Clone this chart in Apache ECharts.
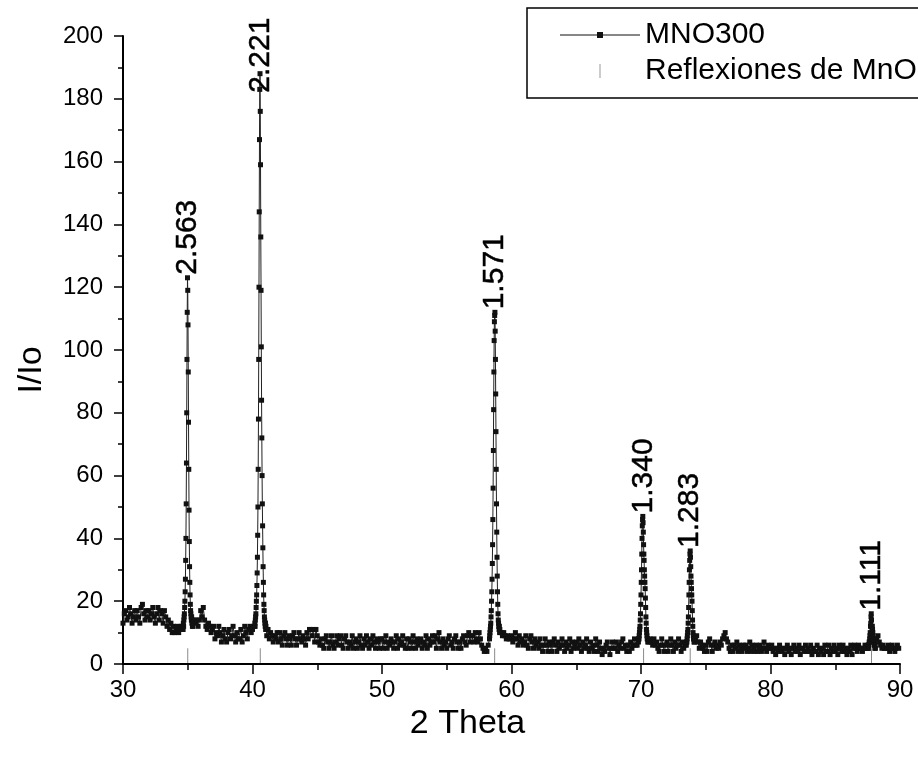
<!DOCTYPE html>
<html>
<head>
<meta charset="utf-8">
<script src="https://cdn.jsdelivr.net/npm/echarts@6/dist/echarts.min.js"></script>
<style>
  html, body { margin: 0; padding: 0; background: #fff; }
  #chart { width: 918px; height: 767px; }
</style>
</head>
<body>
<div id="chart"></div>
<script>
// Difractograma MNO300: barrido de fondo (2θ de 30.0 a 89.9, paso 0.1°)
const barridoInicio = 30.0;
const barridoPaso = 0.1;
const barridoIntensidad = [
  13,16,17,14,15,18,16,13,15,17,
  14,17,15,13,18,19,16,14,17,15,
  17,14,16,18,15,13,16,18,14,17,
  16,13,17,15,12,14,11,13,10,12,
  10,11,12,10,11,12,14,20,60,110,
  120,60,22,15,13,14,13,14,12,14,
  17,15,18,14,12,11,13,12,10,11,
  12,8,10,9,12,10,7,9,11,8,
  7,10,11,8,9,12,9,7,10,8,
  8,11,7,9,12,10,8,11,12,10,
  11,12,16,40,120,180,100,40,18,13,
  12,9,11,8,10,9,7,9,8,10,
  7,10,8,6,9,10,8,6,9,8,
  6,9,10,8,6,8,10,8,7,9,
  8,6,10,8,11,11,9,11,7,11,
  9,7,6,8,6,5,8,9,7,5,
  7,9,6,5,7,9,6,8,9,6,
  5,8,9,7,5,7,6,9,5,7,
  8,5,7,9,6,5,8,6,9,7,
  5,8,6,9,7,5,8,7,5,8,
  8,5,7,9,5,7,6,8,7,5,
  7,9,5,8,6,7,9,6,5,8,
  5,8,7,5,9,7,5,8,6,7,
  8,5,7,6,9,5,8,6,7,9,
  7,9,5,8,10,7,5,8,6,7,
  5,8,9,6,7,5,8,9,7,5,
  7,5,8,9,7,6,9,10,7,9,
  9,7,10,8,7,10,8,6,5,4,
  5,4,6,10,30,90,110,60,20,12,
  12,11,10,9,10,9,8,9,8,8,
  9,7,8,10,8,6,9,7,8,6,
  7,9,6,5,8,9,7,5,8,6,
  7,5,8,6,4,6,8,6,4,7,
  6,4,7,8,6,4,7,5,6,8,
  6,4,7,5,6,8,4,7,5,6,
  7,5,8,6,4,7,5,6,8,5,
  4,7,5,6,4,8,6,4,7,5,
  3,5,4,6,7,5,3,5,7,5,
  5,7,4,6,5,7,8,5,6,4,
  6,4,7,5,6,8,6,6,7,8,
  20,46,38,24,10,8,7,8,7,6,
  8,6,7,5,4,6,8,6,4,6,
  7,4,6,8,6,4,7,5,6,8,
  6,4,7,5,6,8,12,33,24,12,
  9,7,8,9,7,5,7,6,5,4,
  6,4,7,8,6,4,6,7,5,6,
  5,7,6,8,9,10,8,7,5,4,
  6,4,6,5,7,4,6,5,4,6,
  5,6,4,5,7,4,6,5,4,6,
  4,5,6,4,5,7,5,4,6,5,
  5,6,4,5,3,5,4,6,5,4,
  5,3,5,6,4,5,3,5,6,4,
  5,4,6,3,5,5,4,6,4,5,
  4,6,3,5,4,4,6,3,5,4,
  5,3,6,4,4,6,3,5,4,6,
  4,5,3,6,5,4,6,4,5,3,
  5,4,6,3,5,6,5,4,6,5,
  5,4,5,6,5,7,12,15,11,9,
  8,7,8,9,7,6,5,6,5,5,
  5,6,4,5,6,5,4,5,6,5
];

// Zonas de pico medidas con paso fino (0.02°)
const pasoFino = 0.02;
const picoA_inicio = 34.60;
const picoA = [11,12,11,13,12,14,15,16,18,20,23,27,33,40,51,64,80,97,112,123,119,108,93,77,62,49,39,31,26,22,19,17,16,15,14,15,13,14,12,13,12];
const picoB_inicio = 40.16;
const picoB = [12,13,12,14,15,16,18,20,22,25,29,34,41,50,62,78,97,120,144,167,183,188,176,159,136,119,101,84,72,60,51,44,37,31,26,22,19,17,15,14,13,12,13,11,12,11];
const picoC_inicio = 58.30;
const picoC = [8,9,10,11,12,13,15,17,20,23,27,32,38,46,56,68,81,93,103,109,111,112,106,97,86,74,62,51,42,34,28,23,19,16,14,13,12,11,12,10,11];
const picoD_inicio = 69.80;
const picoD = [7,8,8,9,10,11,12,14,16,19,22,26,30,35,40,44,46,47,45,42,38,35,33,30,28,26,24,21,18,15,13,11,10,9,8,8,7];
const picoE_inicio = 73.50;
const picoE = [6,7,7,8,9,10,11,13,15,18,22,26,30,33,35,36,34,31,28,26,24,22,20,17,14,12,10,9,8,8,7,7];
const picoF_inicio = 87.50;
const picoF = [5,5,6,5,6,6,7,7,8,9,10,12,13,15,16,14,12,11,12,11,10,9,8,8,7,7,6,6,5,6,5];

// Reflexiones de MnO (posición 2θ y distancia interplanar d, en Å)
const reflexionesTheta = [35.0, 40.6, 58.7, 70.2, 73.8, 87.8];
const reflexionesD = ['2.563', '2.221', '1.571', '1.340', '1.283', '1.111'];
const alturaReflexion = 5;

// Ejes
const ejeX = { min: 30, max: 90, paso: 10 };
const ejeY = { min: 0, max: 200, paso: 20 };

// ---- Armado de la serie: fondo + picos finos, ordenados por 2θ ----
const ventanas = [
  [picoA_inicio, picoA], [picoB_inicio, picoB], [picoC_inicio, picoC],
  [picoD_inicio, picoD], [picoE_inicio, picoE], [picoF_inicio, picoF]
];
const puntos = [];
barridoIntensidad.forEach((y, i) => {
  const x = +(barridoInicio + i * barridoPaso).toFixed(2);
  const dentro = ventanas.some(([s, v]) => x >= s - 1e-6 && x <= s + (v.length - 1) * pasoFino + 1e-6);
  if (!dentro) puntos.push([x, y]);
});
ventanas.forEach(([s, v]) => v.forEach((y, i) => puntos.push([+(s + i * pasoFino).toFixed(2), y])));
puntos.sort((a, b) => a[0] - b[0]);

// Altura máxima medida cerca de cada reflexión (ancla de la etiqueta)
function maximoCerca(t) {
  let m = 0;
  puntos.forEach(([x, y]) => { if (Math.abs(x - t) <= 0.3 && y > m) m = y; });
  return m;
}
const techoEtiqueta = 181; // las etiquetas no suben por encima de este valor
const etiquetas = reflexionesTheta.map((t, i) => [t, Math.min(maximoCerca(t), techoEtiqueta), reflexionesD[i]]);

const fuente = "'Liberation Sans', Arial, Helvetica, sans-serif";
const chart = echarts.init(document.getElementById('chart'), null, { renderer: 'canvas' });

chart.setOption({
  animation: false,
  backgroundColor: '#fff',
  grid: { left: 123, right: 18, top: 36, bottom: 103, containLabel: false },
  legend: {
    orient: 'vertical',
    left: 527,
    top: 8,
    padding: [12, 60, 12, 33],
    itemGap: 6,
    itemWidth: 80,
    itemHeight: 14,
    symbolKeepAspect: true,
    borderColor: '#000',
    borderWidth: 1.5,
    selectedMode: false,
    textStyle: { fontSize: 30, color: '#000', fontFamily: fuente },
    data: [
      { name: 'MNO300', icon: 'path://M0,2.5H80V3.5H0Z M37,0H43V6H37Z', itemStyle: { color: '#111' } },
      { name: 'Reflexiones de MnO', icon: 'path://M0,0H1V14H0Z', itemStyle: { color: '#999' } }
    ]
  },
  xAxis: {
    type: 'value',
    min: ejeX.min, max: ejeX.max, interval: ejeX.paso,
    name: '2 Theta',
    nameLocation: 'middle',
    nameGap: 31,
    nameTextStyle: { fontSize: 34, color: '#000', fontFamily: fuente, padding: [0, 88, 0, 0] },
    axisLine: { show: true, onZero: false, lineStyle: { color: '#000', width: 2 } },
    axisTick: { show: true, length: 10, lineStyle: { color: '#000', width: 1.5 } },
    minorTick: { show: true, splitNumber: 2, length: 6, lineStyle: { color: '#000', width: 1.5 } },
    splitLine: { show: false },
    axisLabel: { fontSize: 24, color: '#000', margin: 14, fontFamily: fuente }
  },
  yAxis: {
    type: 'value',
    min: ejeY.min, max: ejeY.max, interval: ejeY.paso,
    name: 'I/Io',
    nameLocation: 'middle',
    nameGap: 74,
    nameTextStyle: { fontSize: 34, color: '#000', fontFamily: fuente, padding: [0, 40, 0, 0] },
    axisLine: { show: true, onZero: false, lineStyle: { color: '#000', width: 2 } },
    axisTick: { show: true, length: 9, lineStyle: { color: '#000', width: 1.5 } },
    minorTick: { show: true, splitNumber: 2, length: 5, lineStyle: { color: '#000', width: 1.5 } },
    splitLine: { show: false },
    axisLabel: { fontSize: 24, color: '#000', margin: 20, fontFamily: fuente }
  },
  series: [
    {
      name: 'Reflexiones de MnO',
      type: 'custom',
      z: 1,
      silent: true,
      data: reflexionesTheta.map(t => [t, alturaReflexion]),
      encode: { x: 0, y: 1 },
      renderItem: function (params, api) {
        const base = api.coord([api.value(0), 0]);
        const tope = api.coord([api.value(0), api.value(1)]);
        return {
          type: 'line',
          shape: { x1: base[0], y1: base[1] - 1, x2: tope[0], y2: tope[1] },
          style: { stroke: '#8a8a8a', lineWidth: 1 }
        };
      }
    },
    {
      name: 'MNO300',
      type: 'line',
      z: 3,
      data: puntos,
      symbol: 'rect',
      symbolSize: 5,
      showAllSymbol: true,
      sampling: null,
      silent: true,
      lineStyle: { color: '#222', width: 1 },
      itemStyle: { color: '#111' }
    },
    {
      type: 'scatter',
      z: 4,
      silent: true,
      symbolSize: 0,
      data: etiquetas,
      itemStyle: { opacity: 1 },
      label: {
        show: true,
        position: 'top',
        distance: 3,
        rotate: 90,
        align: 'left',
        verticalAlign: 'middle',
        fontSize: 30,
        color: '#000',
        opacity: 1,
        textBorderColor: '#000',
        textBorderWidth: 0.5,
        fontFamily: fuente,
        formatter: p => p.value[2]
      }
    }
  ]
});
</script>
</body>
</html>
